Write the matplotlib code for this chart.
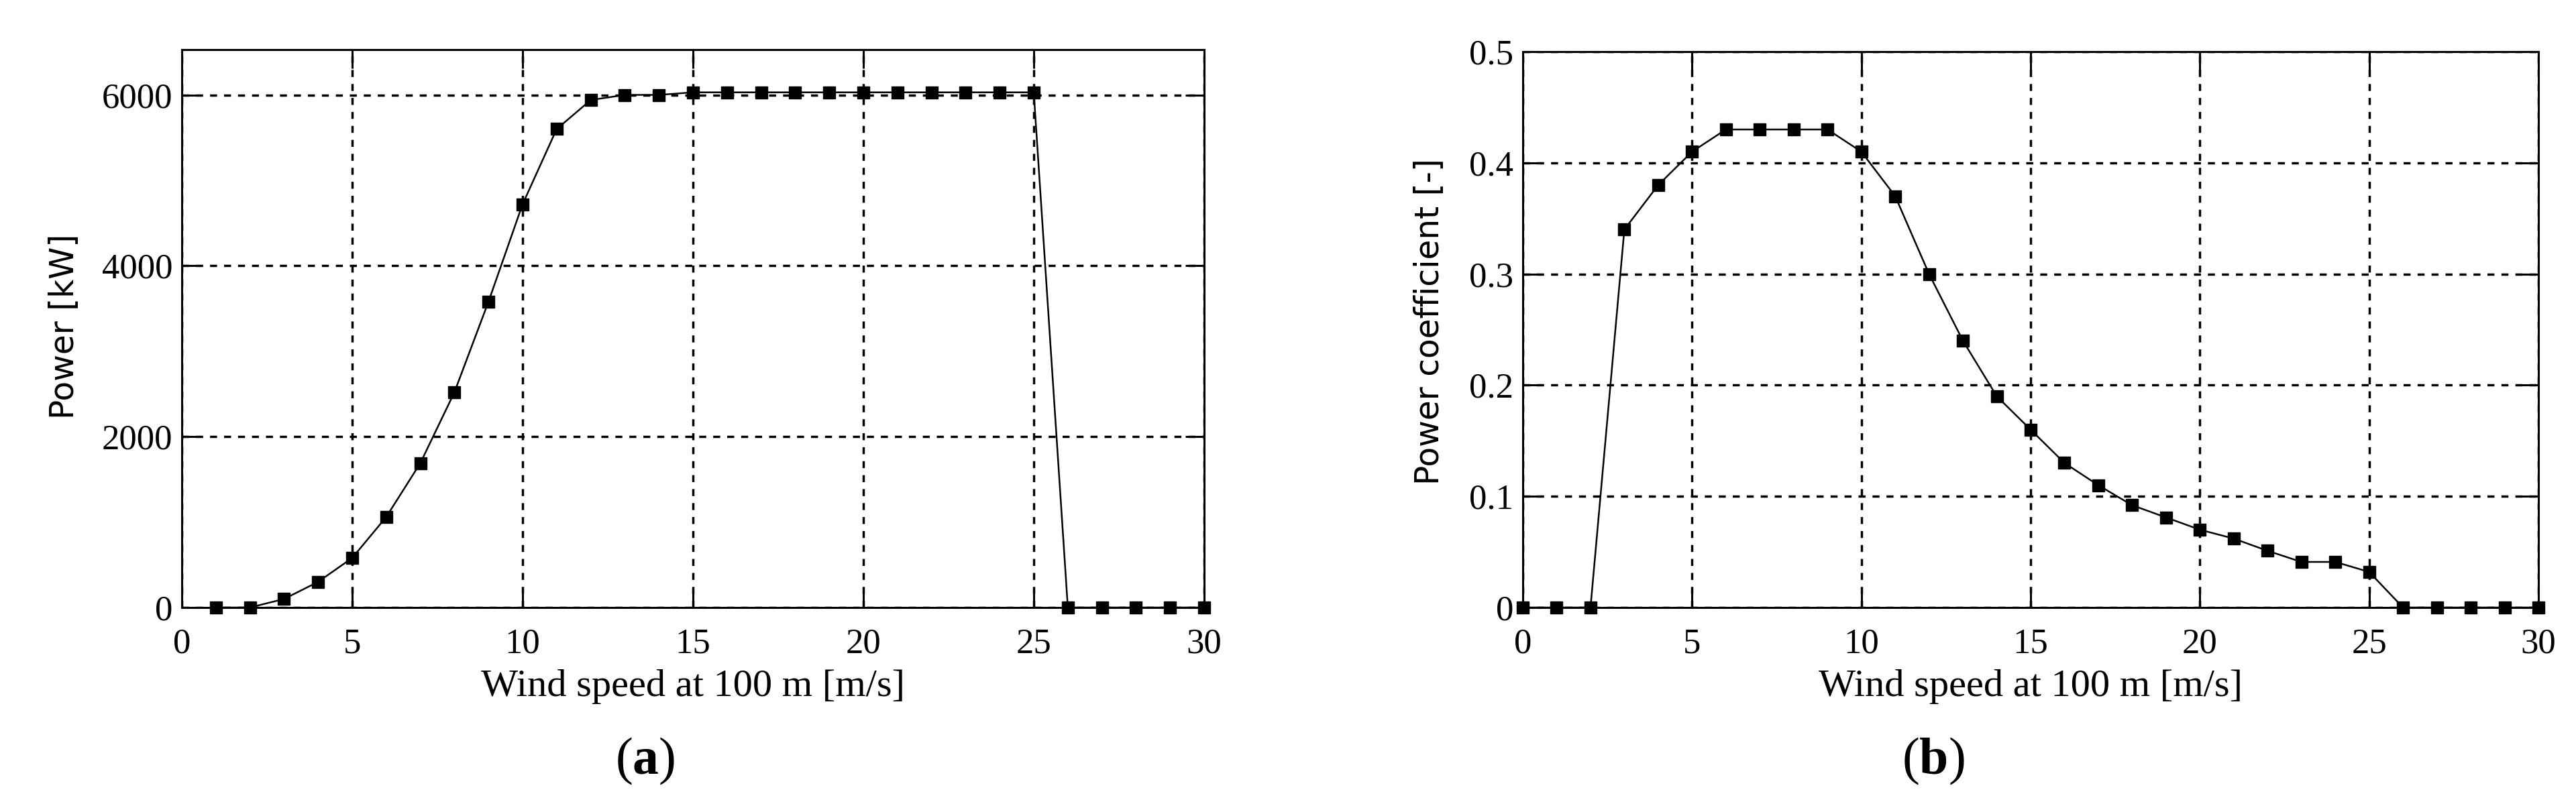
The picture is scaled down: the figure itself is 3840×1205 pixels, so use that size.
import matplotlib
matplotlib.use("Agg")
import matplotlib.pyplot as plt

# ---- data ----
wind_a = list(range(1, 31))
power_kw = [0, 0, 100, 300, 580, 1060, 1690, 2520, 3580, 4720,
            5600, 5940, 6000, 6000, 6030, 6030, 6030, 6030, 6030, 6030,
            6030, 6030, 6030, 6030, 6030, 0, 0, 0, 0, 0]

wind_b = list(range(0, 31))
cp = [0, 0, 0, 0.34, 0.38, 0.41, 0.43, 0.43, 0.43, 0.43,
      0.41, 0.37, 0.30, 0.24, 0.19, 0.16, 0.13, 0.11, 0.092, 0.081,
      0.070, 0.062, 0.051, 0.041, 0.041, 0.032, 0, 0, 0, 0, 0]

xticks = [0, 5, 10, 15, 20, 25, 30]
yticks_a = [0, 2000, 4000, 6000]
yticks_b = [0, 0.1, 0.2, 0.3, 0.4, 0.5]
yticklabels_b = ["0", "0.1", "0.2", "0.3", "0.4", "0.5"]

xlabel = "Wind speed at 100 m [m/s]"
ylabel_a = "Power [kW]"
ylabel_b = "Power coefficient [-]"

plt.rcParams['mathtext.fontset'] = 'custom'
plt.rcParams['mathtext.rm'] = 'Liberation Serif'
plt.rcParams['mathtext.bf'] = 'Liberation Serif:bold'

W, H = 3841, 1205
fig = plt.figure(figsize=(W / 100, H / 100), dpi=100)

serif = 'Liberation Serif'
sans = 'DejaVu Sans'


def px_axes(x0, x1, ytop, ybot):
    return fig.add_axes([x0 / W, 1 - ybot / H, (x1 - x0) / W, (ybot - ytop) / H])


def style(ax):
    for s in ax.spines.values():
        s.set_linewidth(2.2)
        s.set_color('black')
    ax.tick_params(direction='in', length=20, width=2.2, top=True, right=True,
                   labelsize=38, colors='black')
    ax.tick_params(axis='x', pad=22)
    ax.tick_params(axis='y', pad=10)
    for lab in ax.get_xticklabels() + ax.get_yticklabels():
        lab.set_family(serif)
    ax.grid(True, color='black', linestyle=(0, (3, 3)), linewidth=2.5)
    ax.set_xlim(0, 30)
    ax.set_xticks(xticks)
    ax.set_xticklabels([str(t) for t in xticks], family=serif)


# (a)
ax1 = px_axes(271, 1795, 74, 906)
ax1.plot(wind_a, power_kw, color='black', linewidth=1.8, marker='s',
         markersize=13, markerfacecolor='black', markeredgecolor='black',
         clip_on=False, zorder=3)
ax1.set_ylim(0, 6530)
ax1.set_yticks(yticks_a)
ax1.set_yticklabels([str(t) for t in yticks_a], family=serif)
style(ax1)
ax1.set_xlabel(xlabel, fontsize=42, family=serif)
ax1.xaxis.set_label_coords(0.5, -0.111)
ax1.set_ylabel(ylabel_a, fontsize=35, family=sans)
ax1.yaxis.set_label_coords(-0.099, 0.504)

# (b)
ax2 = px_axes(2270, 3784, 77, 906)
ax2.plot(wind_b, cp, color='black', linewidth=1.8, marker='s',
         markersize=13, markerfacecolor='black', markeredgecolor='black',
         clip_on=False, zorder=3)
ax2.set_ylim(0, 0.5)
ax2.set_yticks(yticks_b)
ax2.set_yticklabels(yticklabels_b, family=serif)
style(ax2)
ax2.set_xlabel(xlabel, fontsize=42, family=serif)
ax2.xaxis.set_label_coords(0.5, -0.111)
ax2.set_ylabel(ylabel_b, fontsize=35, family=sans)
ax2.yaxis.set_label_coords(-0.076, 0.514)

fig.text(962 / W, 1 - 1135 / H, r"($\mathbf{a}$)", fontsize=56, family=serif,
         ha='center', va='center')
fig.text(2882 / W, 1 - 1135 / H, r"($\mathbf{b}$)", fontsize=56, family=serif,
         ha='center', va='center')

fig.savefig("out.png", dpi=100, facecolor='white')
